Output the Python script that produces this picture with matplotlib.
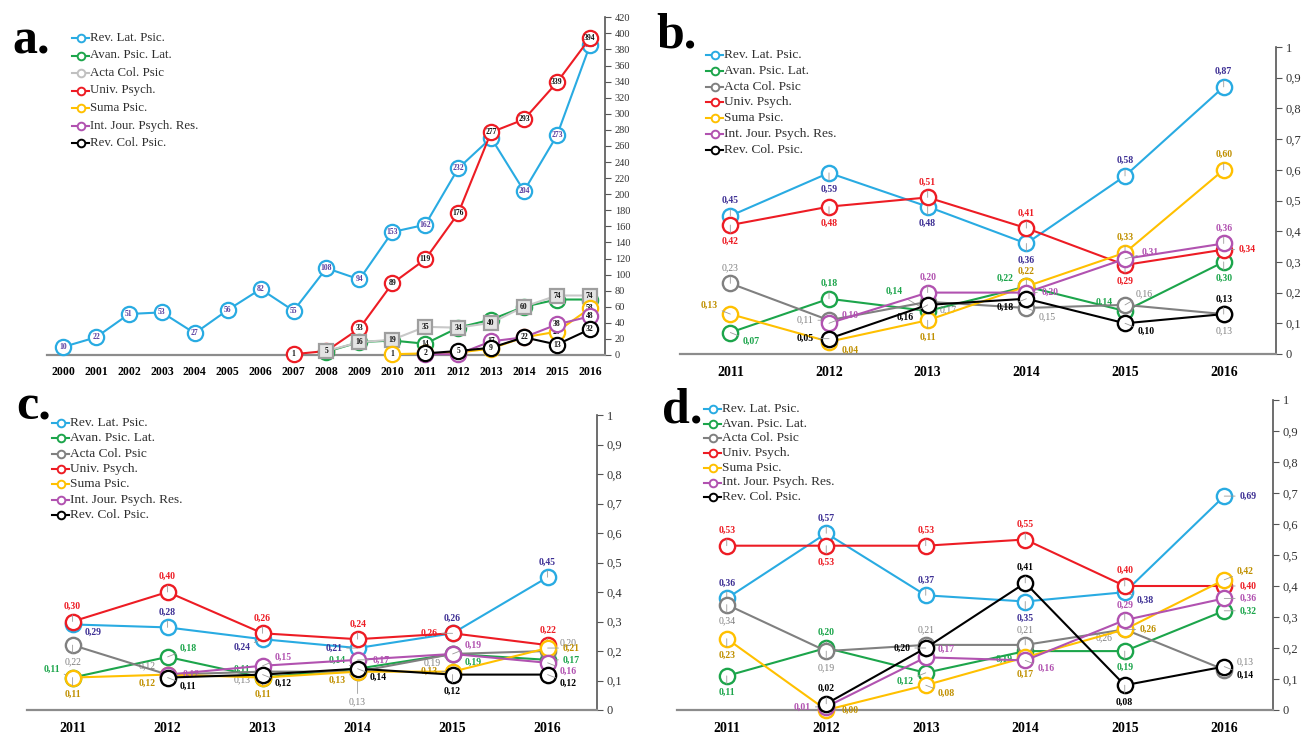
"""
Four-panel journal metrics chart (a: documents per year, b-d: indicators 2011-2016)
"""

import numpy as np
import matplotlib.pyplot as plt
from matplotlib.lines import Line2D

plt.rcParams['font.family'] = ['Liberation Serif', 'DejaVu Serif']

W, H = 1303, 734
nan = np.nan

JOURNALS = ['Rev. Lat. Psic.', 'Avan. Psic. Lat.', 'Acta Col. Psic', 'Univ. Psych.',
            'Suma Psic.', 'Int. Jour. Psych. Res.', 'Rev. Col. Psic.']
COLORS = ['#29abe2', '#1ca54b', '#808080', '#ed1c24', '#ffc000', '#b152b0', '#000000']
LABEL_COLORS = ['#3d2f94', '#1ca54b', '#7f7f7f', '#ed1c24', '#c09000', '#b152b0', '#000000']

# ---- panel a: documents per year ----
years_a = list(range(2000, 2017))
a_rev_lat = [10, 22, 51, 53, 27, 56, 82, 55, 108, 94, 153, 162, 232, 270, 204, 273, 385]
years_univ = list(range(2007, 2017))
a_univ = [1, 5, 33, 89, 119, 176, 277, 293, 339, 394]
years_avan = list(range(2008, 2017))
a_avan = [4, 16, 18, 14, 34, 44, 60, 69, 69]
years_acta = list(range(2008, 2017))
a_acta = [5, 16, 19, 35, 34, 40, 60, 74, 74]
years_suma = list(range(2010, 2017))
a_suma = [1, 2, 3, 8, 22, 29, 58]
years_int = list(range(2011, 2017))
a_int = [1, 1, 17, 22, 38, 48]
years_col = list(range(2011, 2017))
a_col = [2, 5, 9, 22, 13, 32]

# ---- panels b, c, d: 2011-2016 ----
years = list(range(2011, 2017))
b_vals = [
    [0.45, 0.59, 0.48, 0.36, 0.58, 0.87],
    [0.07, 0.18, 0.14, 0.22, 0.14, 0.30],
    [0.23, 0.11, 0.17, 0.15, 0.16, 0.13],
    [0.42, 0.48, 0.51, 0.41, 0.29, 0.34],
    [0.13, 0.04, 0.11, 0.22, 0.33, 0.60],
    [nan, 0.10, 0.20, 0.20, 0.31, 0.36],
    [nan, 0.05, 0.16, 0.18, 0.10, 0.13],
]
c_vals = [
    [0.29, 0.28, 0.24, 0.21, 0.26, 0.45],
    [0.11, 0.18, 0.11, 0.14, 0.19, 0.17],
    [0.22, 0.12, 0.13, 0.13, 0.19, 0.20],
    [0.30, 0.40, 0.26, 0.24, 0.26, 0.22],
    [0.11, 0.12, 0.11, 0.13, 0.13, 0.21],
    [nan, 0.12, 0.15, 0.17, 0.19, 0.16],
    [nan, 0.11, 0.12, 0.14, 0.12, 0.12],
]
d_vals = [
    [0.36, 0.57, 0.37, 0.35, 0.38, 0.69],
    [0.11, 0.20, 0.12, 0.19, 0.19, 0.32],
    [0.34, 0.19, 0.21, 0.21, 0.26, 0.13],
    [0.53, 0.53, 0.53, 0.55, 0.40, 0.40],
    [0.23, 0.00, 0.08, 0.17, 0.26, 0.42],
    [nan, 0.01, 0.17, 0.16, 0.29, 0.36],
    [nan, 0.02, 0.20, 0.41, 0.08, 0.14],
]

# label placement codes or offsets in points (style only)
b_pos = [
    ['u', 'd', 'd', 'd', 'u', 'u'],
    ['dr', 'u', (-24, 14), 'ul', 'ul', 'd'],
    ['u', 'l', 'dr', 'dr', (14, 8), 'd'],
    ['d', 'd', 'u', 'u', 'd', 'r'],
    ['ul', 'dr', 'd', 'u', 'u', 'u'],
    [None, 'ur', 'u', 'r', (18, 5), 'u'],
    [None, 'l', (-16, -9), 'dl', 'dr', 'u'],
]
c_pos = [
    ['dr', 'u', 'dl', 'l', 'u', 'u'],
    ['ul', 'ur', 'ul', 'ul', 'dr', 'r'],
    ['d', 'ul', 'dl', 'dd', 'dl', 'ur'],
    ['u', 'u', 'u', 'u', 'l', 'u'],
    ['d', 'dl', 'd', 'dl', 'l', 'r'],
    [None, 'r', 'ur', 'r', 'ur', 'dr'],
    [None, 'dr', 'dr', 'dr', 'd', 'dr'],
]
d_pos = [
    ['u', 'u', 'u', 'd', 'dr', 'r'],
    ['d', 'u', 'dl', 'dl', 'd', 'r'],
    ['d', 'd', 'u', 'u', 'dl', 'ur'],
    ['u', 'd', 'u', 'u', 'u', 'r'],
    ['d', 'r', 'dr', 'd', 'r', 'ur'],
    [None, 'l', 'ur', 'dr', 'u', 'r'],
    [None, 'u', 'l', 'u', 'd', 'dr'],
]
OFF = {'u': (0, 11), 'd': (0, -12), 'dd': (0, -22), 'l': (-17, 0), 'r': (17, 0),
       'ul': (-15, 6), 'ur': (15, 6), 'dl': (-15, -6), 'dr': (15, -6)}


def px_axes(fig, left, right, top, bottom):
    return fig.add_axes([left / W, 1 - bottom / H, (right - left) / W, (bottom - top) / H])


def style_axes(ax, xfs):
    for s in ['left', 'top']:
        ax.spines[s].set_visible(False)
    ax.spines['right'].set_color('#555555')
    ax.spines['right'].set_linewidth(1.2)
    ax.spines['bottom'].set_color('#8c8c8c')
    ax.spines['bottom'].set_linewidth(1.6)
    ax.yaxis.tick_right()
    ax.tick_params(axis='y', direction='out', length=4, color='#555555',
                   labelcolor='#333333', pad=3)
    ax.tick_params(axis='x', length=0, pad=9)
    for t in ax.get_xticklabels():
        t.set_fontweight('bold')
        t.set_fontsize(xfs)


def draw_legend(fig, x0, y0, dy, colors, fs):
    for i, (name, c) in enumerate(zip(JOURNALS, colors)):
        y = 1 - (y0 + i * dy) / H
        fig.add_artist(Line2D([x0 / W, (x0 + 17) / W], [y, y], color=c, lw=1.5,
                              transform=fig.transFigure))
        fig.add_artist(Line2D([(x0 + 8.5) / W], [y], marker='o', ms=5.5, mfc='white',
                              mec=c, mew=1.4, transform=fig.transFigure))
        fig.text((x0 + 18) / W, y, name, fontsize=fs, va='center', ha='left',
                 color='#2e2e2e')


def ratio_panel(ax, vals, pos):
    for i, series in enumerate(vals):
        z = 3 + i * 2
        ax.plot(years, series, color=COLORS[i], lw=1.5, marker='o', ms=11,
                mfc='white', mec=COLORS[i], mew=1.7, zorder=z, clip_on=False)
        for x, v, p in zip(years, series, pos[i]):
            if np.isnan(v) or p is None:
                continue
            off = OFF[p] if isinstance(p, str) else p
            ax.annotate(f'{v:.2f}'.replace('.', ','), (x, v), xytext=off,
                        textcoords='offset points', ha='center', va='center',
                        fontsize=7, color=LABEL_COLORS[i],
                        fontweight='normal' if i == 2 else 'bold',
                        arrowprops=dict(arrowstyle='-', color='#9a9a9a', lw=0.6,
                                        shrinkA=1, shrinkB=0),
                        zorder=z + 1, annotation_clip=False)
    ax.set_ylim(0, 1)
    ax.set_yticks(np.arange(0, 1.01, 0.1))
    ax.set_yticklabels(['0'] + [f'0,{k}' for k in range(1, 10)] + ['1'], fontsize=9)
    ax.set_xticks(years)
    style_axes(ax, 10)


fig = plt.figure(figsize=(W / 100, H / 100), dpi=100)

# ---- a ----
ax_a = px_axes(fig, 47, 605, 17.3, 355)
series_a = [
    (years_a, a_rev_lat, 0, 'o'),
    (years_univ, a_univ, 3, 'o'),
    (years_avan, a_avan, 1, 'o'),
    (years_acta, a_acta, 2, 's'),
    (years_suma, a_suma, 4, 'o'),
    (years_int, a_int, 5, 'o'),
    (years_col, a_col, 6, 'o'),
]
for k, (xs, ys, ci, mk) in enumerate(series_a):
    z = 3 + k * 2
    if ci == 2:
        col, mfc, mec, ms = '#c8c8c8', '#e4e4e4', '#9e9e9e', 10
    else:
        col, mfc, mec, ms = COLORS[ci], 'white', COLORS[ci], 11
    ax_a.plot(xs, ys, color=col, lw=1.5, marker=mk, ms=ms, mfc=mfc, mec=mec,
              mew=1.6, zorder=z, clip_on=False)
    tcol = '#5b3fa0' if ci == 0 else '#111111'
    for x, v in zip(xs, ys):
        ax_a.text(x, v, str(v), ha='center', va='center', fontsize=5.5,
                  fontweight='bold', color=tcol, zorder=z + 1)
ax_a.set_xlim(1999.51, 2016.46)
ax_a.set_ylim(0, 420)
ax_a.set_yticks(range(0, 421, 20))
ax_a.set_yticklabels([str(v) for v in range(0, 421, 20)], fontsize=7.5)
ax_a.set_xticks(years_a)
style_axes(ax_a, 8.5)
ax_a.tick_params(axis='x', pad=8)

# ---- b ----
ax_b = px_axes(fig, 680, 1276, 47, 354)
ratio_panel(ax_b, b_vals, b_pos)
ax_b.set_xlim(2010.49, 2016.53)

# ---- c ----
ax_c = px_axes(fig, 27, 597, 415, 710)
ratio_panel(ax_c, c_vals, c_pos)
ax_c.set_xlim(2010.52, 2016.52)

# ---- d ----
ax_d = px_axes(fig, 677, 1273, 400, 710)
ratio_panel(ax_d, d_vals, d_pos)
ax_d.set_xlim(2010.50, 2016.49)

# legends
legend_a_colors = COLORS[:2] + ['#c0c0c0'] + COLORS[3:]
draw_legend(fig, 72, 38, 17.5, legend_a_colors, 9.3)
draw_legend(fig, 706, 55, 15.8, COLORS, 9.6)
draw_legend(fig, 52, 423, 15.3, COLORS, 9.6)
draw_legend(fig, 704, 409, 14.7, COLORS, 9.6)

# panel letters
for ch, x, y in [('a.', 12, 53), ('b.', 656, 47), ('c.', 16, 420), ('d.', 662, 422)]:
    fig.text(x / W, 1 - y / H, ch, fontsize=36, fontweight='bold', ha='left',
             va='baseline', color='black')

fig.savefig('out.png', dpi=100)
